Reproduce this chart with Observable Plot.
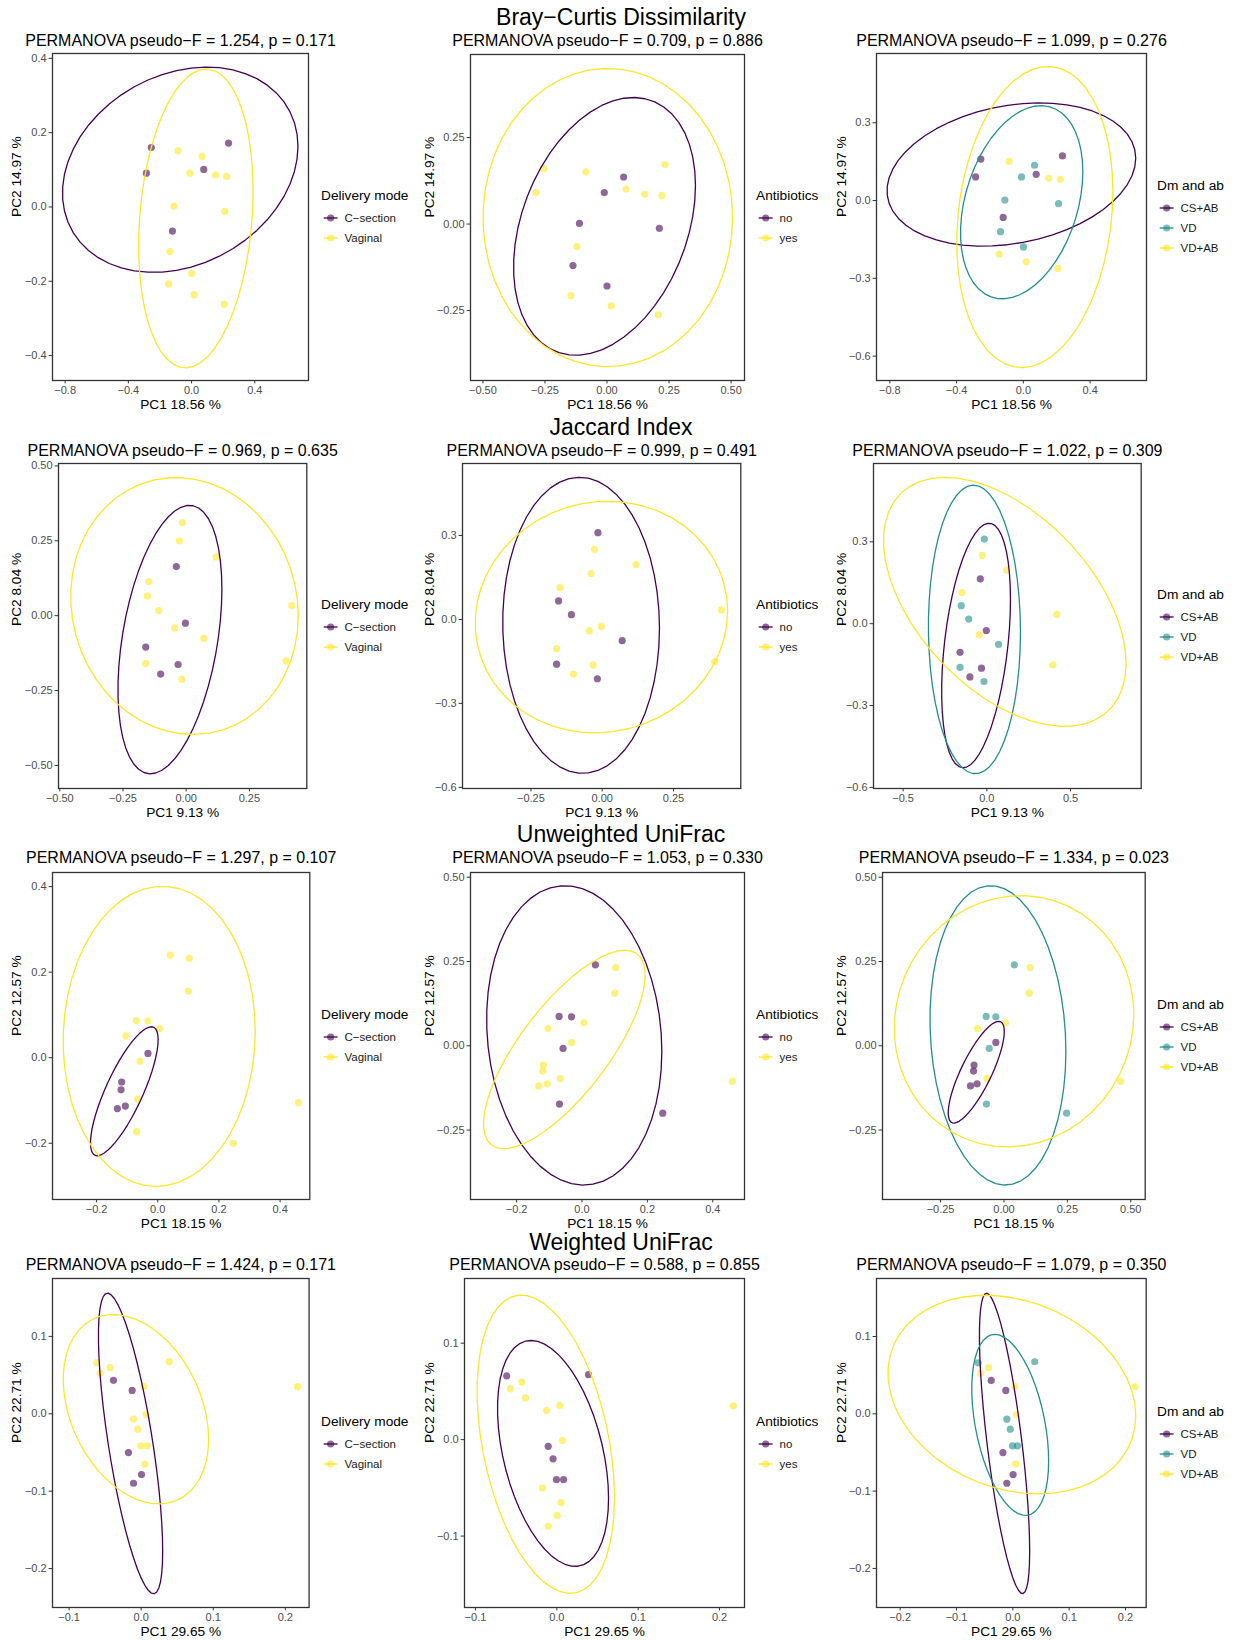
<!DOCTYPE html>
<html>
<head>
<meta charset="utf-8">
<script src="https://cdn.jsdelivr.net/npm/d3@7"></script>
<script src="https://cdn.jsdelivr.net/npm/@observablehq/plot@0.6"></script>
<style>
  body { margin: 0; background: #fff; }
  #fig { position: relative; width: 1241px; height: 1640px; background: #fff; overflow: hidden;
         font-family: "Liberation Sans", Arial, Helvetica, sans-serif; color: #000; }
  .abs { position: absolute; white-space: nowrap; }
</style>
</head>
<body>
<div id="fig"></div>
<script>
// ---------------- DATA ----------------
const sectionTitles = ["Bray\u2212Curtis Dissimilarity", "Jaccard Index", "Unweighted UniFrac", "Weighted UniFrac"];
const pc1Labels = ["PC1 18.56 %", "PC1 9.13 %", "PC1 18.15 %", "PC1 29.65 %"];
const pc2Labels = ["PC2 14.97 %", "PC2 8.04 %", "PC2 12.57 %", "PC2 22.71 %"];
const pseudoF = [[1.254, 0.709, 1.099], [0.969, 0.999, 1.022], [1.297, 1.053, 1.334], [1.424, 0.588, 1.079]];
const pValues = [[0.171, 0.886, 0.276], [0.635, 0.491, 0.309], [0.107, 0.330, 0.023], [0.171, 0.855, 0.350]];

const groupNames = ["CS+AB", "VD", "VD+AB"];
const deliveryLevels = ["C\u2212section", "Vaginal"];
const antibioticLevels = ["no", "yes"];
const groupDelivery = {"CS+AB": "C\u2212section", "VD": "Vaginal", "VD+AB": "Vaginal"};
const groupAntibiotics = {"CS+AB": "yes", "VD": "no", "VD+AB": "yes"};

// sample group (same 17 samples in every ordination)
const sampleGroup = ["CS+AB","CS+AB","CS+AB","CS+AB","CS+AB",
                     "VD","VD","VD","VD","VD","VD",
                     "VD+AB","VD+AB","VD+AB","VD+AB","VD+AB","VD+AB"];

// Bray-Curtis
const bcPC1 = [-0.255,-0.286,0.077,0.234,-0.121, 0.067,-0.011,-0.111,0.211,-0.137,0.000, -0.085,0.152,0.221,-0.145,0.017,0.207];
const bcPC2 = [0.160,0.091,0.101,0.172,-0.065, 0.136,0.091,0.002,-0.012,-0.120,-0.179, 0.151,0.086,0.082,-0.207,-0.236,-0.262];
// Jaccard
const jcPC1 = [-0.039,-0.003,-0.160,-0.032,-0.101, -0.015,-0.153,-0.108,0.070,-0.160,-0.017, -0.027,0.119,-0.148,-0.045,0.418,0.395];
const jcPC2 = [0.164,-0.025,-0.105,-0.163,-0.195, 0.310,0.066,0.017,-0.076,-0.160,-0.212, 0.250,0.196,0.114,-0.041,0.034,-0.151];
// Unweighted UniFrac
const uuPC1 = [-0.032,-0.118,-0.120,-0.106,-0.132, 0.041,-0.070,-0.032,-0.058,-0.069,0.247, 0.103,0.100,0.006,-0.104,-0.066,0.460];
const uuPC2 = [0.010,-0.057,-0.075,-0.113,-0.119, 0.240,0.087,0.086,-0.008,-0.173,-0.200, 0.232,0.156,0.068,0.051,-0.097,-0.105];
// Weighted UniFrac
const wuPC1 = [-0.0384,-0.0125,-0.0176,0.0005,-0.0106, -0.0616,0.0389,-0.0106,-0.0046,-0.0005,0.0083, -0.057,-0.043,0.0037,0.0069,0.0051,0.217];
const wuPC2 = [0.0432,0.0302,-0.0501,-0.0786,-0.0898, 0.066,0.0673,-0.0069,-0.0199,-0.0414,-0.0414, 0.0527,0.0596,0.0354,-0.0009,-0.0652,0.035];

// tick values per panel [row][col]
const xTicks = [
  [[-0.8,-0.4,0,0.4], [-0.5,-0.25,0,0.25,0.5], [-0.8,-0.4,0,0.4]],
  [[-0.5,-0.25,0,0.25], [-0.25,0,0.25], [-0.5,0,0.5]],
  [[-0.2,0,0.2,0.4], [-0.2,0,0.2,0.4], [-0.25,0,0.25,0.5]],
  [[-0.1,0,0.1,0.2], [-0.1,0,0.1,0.2], [-0.2,-0.1,0,0.1,0.2]]
];
const yTicks = [
  [[-0.4,-0.2,0,0.2,0.4], [-0.25,0,0.25], [-0.6,-0.3,0,0.3]],
  [[-0.5,-0.25,0,0.25,0.5], [-0.6,-0.3,0,0.3], [-0.6,-0.3,0,0.3]],
  [[-0.2,0,0.2,0.4], [-0.25,0,0.25,0.5], [-0.25,0,0.25,0.5]],
  [[-0.2,-0.1,0,0.1], [-0.1,0,0.1], [-0.2,-0.1,0,0.1]]
];

// ---------------- LAYOUT / STYLE ----------------
const FONT = '"Liberation Sans", Arial, Helvetica, sans-serif';
const palette2 = ["#440154", "#FDE725"];
const palette3 = ["#440154", "#21908C", "#FDE725"];
const rowData = [[bcPC1, bcPC2], [jcPC1, jcPC2], [uuPC1, uuPC2], [wuPC1, wuPC2]];
const groupings = [
  {title: "Delivery mode", levels: deliveryLevels, colors: palette2, of: g => groupDelivery[g]},
  {title: "Antibiotics", levels: antibioticLevels, colors: palette2, of: g => groupAntibiotics[g]},
  {title: "Dm and ab", levels: groupNames, colors: palette3, of: g => g}
];
// panel boxes [left, top, right, bottom]
const boxes = [
  [[52,53,308,380], [470,54,744,380], [876,53,1146,380]],
  [[57.7,463,306,788], [461.7,463,740,788], [873.3,463,1141,788]],
  [[51.7,872,309,1199], [470,872,744,1199], [882.3,872,1145,1199]],
  [[51.7,1278,308.3,1607], [464,1278,744,1607], [876,1278,1145.7,1607]]
];
const xDomains = [
  [[-0.88,0.74], [-0.55,0.554], [-0.88,0.738]],
  [[-0.505,0.477], [-0.49,0.486], [-0.677,0.922]],
  [[-0.344,0.497], [-0.341,0.497], [-0.479,0.557]],
  [[-0.123,0.233], [-0.1135,0.2307], [-0.242,0.2367]]
];
const yDomains = [
  [[-0.467,0.413], [-0.452,0.49], [-0.694,0.567]],
  [[-0.577,0.508], [-0.604,0.557], [-0.604,0.587]],
  [[-0.3315,0.433], [-0.456,0.514], [-0.456,0.514]],
  [[-0.2503,0.1748], [-0.174,0.167], [-0.2505,0.175]]
];
const sectionY = [17, 427, 834, 1242];
const subtitleY = [40.5, 450, 857.5, 1264];
const yTitleX = [16, 429, 841];
const legendX = [321, 756, 1157];

// ---------------- stat_ellipse (type "t", level 0.95) ----------------
function statEllipse(px, py, level = 0.95, segments = 51) {
  const n = px.length, p = 2, nu = 5;
  let loc = [d3.mean(px), d3.mean(py)];
  let w = new Array(n).fill(1);
  let X = [];
  for (let iter = 0; iter < 25; iter++) {
    const w0 = w.slice();
    X = px.map((x, i) => [x - loc[0], py[i] - loc[1]]);
    const sw = d3.sum(w);
    let a = 0, b = 0, c = 0;
    for (let i = 0; i < n; i++) {
      a += w[i] * X[i][0] * X[i][0];
      b += w[i] * X[i][0] * X[i][1];
      c += w[i] * X[i][1] * X[i][1];
    }
    a /= sw; b /= sw; c /= sw;
    const det = a * c - b * b;
    w = X.map(([u, v]) => (nu + p) / (nu + (c * u * u - 2 * b * u * v + a * v * v) / det));
    const sw2 = d3.sum(w);
    loc = [d3.sum(px, (x, i) => w[i] * x) / sw2, d3.sum(py, (y, i) => w[i] * y) / sw2];
    if (w.every((wi, i) => Math.abs(wi - w0[i]) < 0.01)) break;
  }
  let a = 0, b = 0, c = 0;
  for (let i = 0; i < n; i++) {
    a += w[i] * X[i][0] * X[i][0];
    b += w[i] * X[i][0] * X[i][1];
    c += w[i] * X[i][1] * X[i][1];
  }
  a /= n; b /= n; c /= n;
  const r11 = Math.sqrt(a), r12 = b / r11, r22 = Math.sqrt(Math.max(c - r12 * r12, 0));
  const dfd = n - 1;
  const f = (dfd / 2) * (Math.pow(1 - level, -2 / dfd) - 1);
  const radius = Math.sqrt(2 * f);
  const out = [];
  for (let k = 0; k <= segments; k++) {
    const t = k * 2 * Math.PI / segments;
    const ct = Math.cos(t), st = Math.sin(t);
    out.push([loc[0] + radius * ct * r11, loc[1] + radius * (ct * r12 + st * r22)]);
  }
  return out;
}

function fmtTick(v, ticks) {
  const dec = ticks.some(t => Math.abs(Math.round(t * 10) - t * 10) > 1e-9) ? 2 : 1;
  const s = Math.abs(v) < 1e-12 ? (0).toFixed(dec) : v.toFixed(dec);
  return s.replace("-", "\u2212");
}

// ---------------- DRAW ----------------
const fig = d3.select("#fig");

sectionTitles.forEach((t, r) => {
  fig.append("div").attr("class", "abs")
    .style("left", "621px").style("top", sectionY[r] + "px")
    .style("transform", "translate(-50%, -50%)")
    .style("font-size", "23px").style("line-height", "21px")
    .text(t);
});

for (let r = 0; r < 4; r++) {
  const [PC1, PC2] = rowData[r];
  for (let c = 0; c < 3; c++) {
    const g = groupings[c];
    const [bl, bt, br, bb] = boxes[r][c];
    const mL = 60, mR = 45, mT = 30, mB = 40;
    const W = (br - bl) + mL + mR, H = (bb - bt) + mT + mB;
    const pts = PC1.map((x, i) => ({pc1: x, pc2: PC2[i], level: g.of(sampleGroup[i])}));
    const ell = g.levels.flatMap(lv => {
      const sub = pts.filter(d => d.level === lv);
      return statEllipse(sub.map(d => d.pc1), sub.map(d => d.pc2)).map(([x, y]) => ({pc1: x, pc2: y, level: lv}));
    });
    const xt = xTicks[r][c], yt = yTicks[r][c];
    const subtitle = `PERMANOVA pseudo\u2212F = ${pseudoF[r][c].toFixed(3)}, p = ${pValues[r][c].toFixed(3)}`;

    const svg = Plot.plot({
      width: W, height: H,
      marginLeft: mL, marginRight: mR, marginTop: mT, marginBottom: mB,
      x: {domain: xDomains[r][c]},
      y: {domain: yDomains[r][c]},
      color: {domain: g.levels, range: g.colors},
      style: {background: "transparent", fontFamily: FONT, overflow: "visible", fontSize: "11px"},
      marks: [
        Plot.dot(pts, {x: "pc1", y: "pc2", fill: "level", fillOpacity: 0.6, r: 3.6, stroke: "none"}),
        Plot.line(ell, {x: "pc1", y: "pc2", z: "level", stroke: "level", strokeWidth: 1.3, clip: true}),
        Plot.frame({stroke: "#333333", strokeWidth: 1.3}),
        Plot.axisX(xt, {tickSize: 3.4, tickPadding: 2.5, fontSize: 11, stroke: "#333333", fill: "#4d4d4d",
                        tickFormat: v => fmtTick(v, xt), label: null}),
        Plot.axisY(yt, {tickSize: 3.4, tickPadding: 2.5, fontSize: 11, stroke: "#333333", fill: "#4d4d4d",
                        tickFormat: v => fmtTick(v, yt), label: null}),
        Plot.text([pc1Labels[r]], {text: d => d, frameAnchor: "bottom", dy: 24, lineAnchor: "middle",
                                   fontSize: 13.7, fill: "#000"}),
        Plot.text([pc2Labels[r]], {text: d => d, frameAnchor: "left", dx: yTitleX[c] - bl, rotate: -90,
                                   lineAnchor: "middle", fontSize: 13.7, fill: "#000"}),
        Plot.text([subtitle], {text: d => d, frameAnchor: "top", dy: subtitleY[r] - bt, lineAnchor: "middle",
                               fontSize: 16, fill: "#000"})
      ]
    });
    svg.style.position = "absolute";
    svg.style.left = (bl - mL) + "px";
    svg.style.top = (bt - mT) + "px";
    svg.style.maxWidth = "none";
    fig.node().appendChild(svg);

    // legend (key = path + point, like the ggplot legend)
    const C = (bt + bb) / 2;
    const n = g.levels.length;
    const itemY = g.levels.map((_, i) => C + 11 + (i - (n - 1) / 2) * 20);
    const titleY = itemY[0] - 23;
    const top0 = titleY - 15;
    const leg = fig.append("svg").attr("width", 120).attr("height", 110)
      .style("position", "absolute").style("left", legendX[c] + "px").style("top", top0 + "px")
      .style("font-family", FONT);
    leg.append("text").attr("x", 0).attr("y", titleY - top0).attr("dy", "0.35em")
      .attr("font-size", 13.7).attr("fill", "#000").text(g.title);
    g.levels.forEach((lv, i) => {
      const y = itemY[i] - top0;
      leg.append("line").attr("x1", 2.7).attr("x2", 16.6).attr("y1", y).attr("y2", y)
        .attr("stroke", g.colors[i]).attr("stroke-width", 1.3);
      leg.append("circle").attr("cx", 9.65).attr("cy", y).attr("r", 3.6)
        .attr("fill", g.colors[i]).attr("fill-opacity", 0.6);
      leg.append("text").attr("x", 23.5).attr("y", y).attr("dy", "0.35em")
        .attr("font-size", 11.5).attr("fill", "#1a1a1a").text(lv);
    });
  }
}
</script>
</body>
</html>
